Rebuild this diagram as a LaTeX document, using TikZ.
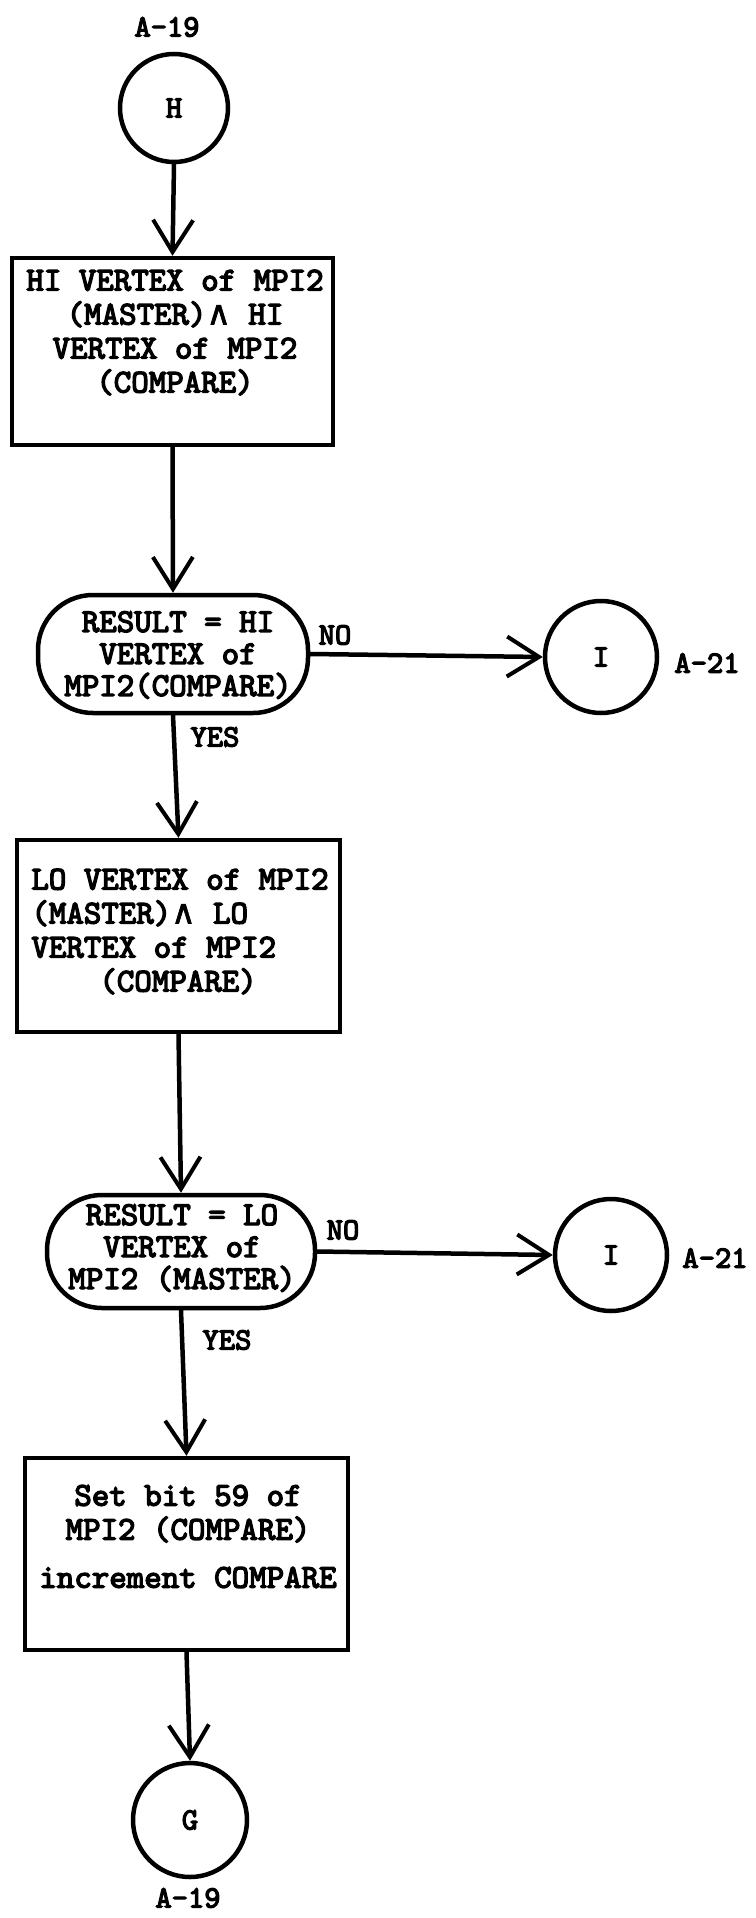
\documentclass[tikz,border=0pt]{standalone}
\usepackage{fontspec}
\usetikzlibrary{arrows.meta,calc}
\newfontfamily\tw{lmmono10-regular.otf}[FakeBold=4]
\newfontfamily\symf{DejaVu Sans}[FakeBold=2]
\newcommand{\andsym}{{\symf ∧}}
\newcommand{\twf}{\tw}
\tikzset{
  ln/.style={line width=4.5pt},
  procbox/.style={draw, ln, rectangle, inner sep=0pt},
  decbox/.style={draw, ln, rectangle, rounded corners=55pt, inner sep=0pt},
  conn/.style={draw, ln, circle, inner sep=0pt, font=\twf\fontsize{31}{32}\selectfont},
  bodytxt/.style={inner sep=0pt, font=\twf\fontsize{33.3}{34}\selectfont},
  dectxt/.style={inner sep=0pt, align=center, font=\twf\fontsize{33.3}{32}\selectfont},
  lbl/.style={inner sep=0pt, font=\twf\fontsize{31}{34}\selectfont},
  flow/.style={ln, line cap=round, -{Straight Barb[length=32pt,width=40pt,line width=4pt]}}
}
\begin{document}
\begin{tikzpicture}[x=1pt,y=-1pt]
\useasboundingbox (0,0) rectangle (755,1918);

% top connector
\node[lbl] (a19t) at (167,27) {A-19};
\node[conn, minimum size=108pt] (H) at (174,108) {H};

% box 1
\node[procbox, minimum width=321pt, minimum height=187pt] (b1) at (172.5,351.5) {};
\node[bodytxt, align=center] (t1) at (175,332.5) {HI VERTEX of MPI2\\(MASTER)\andsym{} HI\\VERTEX of MPI2\\(COMPARE)};

% decision 1
\node[decbox, minimum width=270pt, minimum height=118pt] (d1) at (173,654) {};
\node[dectxt] (dt1) at (178,655) {RESULT = HI\\VERTEX of\\MPI2(COMPARE)};
\node[lbl] (no1) at (335,635) {NO};
\node[lbl] (yes1) at (215,737) {YES};
\node[conn, minimum size=112pt] (I1) at (601,657) {I};
\node[lbl] (a21a) at (707,663) {A-21};

% box 2
\node[procbox, minimum width=323pt, minimum height=192pt] (b2) at (178.5,936) {};
\node[bodytxt, align=left] (t2) at (180,931.5) {LO VERTEX of MPI2\\(MASTER)\andsym{} LO\\VERTEX of MPI2\\\hspace*{68pt}(COMPARE)};

% decision 2
\node[decbox, minimum width=268pt, minimum height=113pt] (d2) at (181,1251.5) {};
\node[dectxt] (dt2) at (182,1248) {RESULT = LO\\VERTEX of\\MPI2 (MASTER)};
\node[lbl] (no2) at (343,1230) {NO};
\node[lbl] (yes2) at (227,1340) {YES};
\node[conn, minimum size=112pt] (I2) at (611,1255) {I};
\node[lbl] (a21b) at (715,1258) {A-21};

% box 3
\node[procbox, minimum width=323pt, minimum height=192pt] (b3) at (186.5,1554) {};
\node[bodytxt, align=center] (t3) at (188,1536.5) {Set bit 59 of\\MPI2 (COMPARE)\\[14pt]increment COMPARE};

% bottom connector
\node[conn, minimum size=114pt] (G) at (190,1820) {G};
\node[lbl] (a19b) at (188,1898) {A-19};

% connectors
\draw[flow] (H.south) -- (b1.north);
\draw[flow] (b1.south) -- (d1.north);
\draw[flow] (d1.east) -- (I1.west);
\draw[flow] (d1.south) -- (b2.north);
\draw[flow] (b2.south) -- (d2.north);
\draw[flow] (d2.east) -- (I2.west);
\draw[flow] (d2.south) -- (b3.north);
\draw[flow] (b3.south) -- (G.north);
\end{tikzpicture}
\end{document}
